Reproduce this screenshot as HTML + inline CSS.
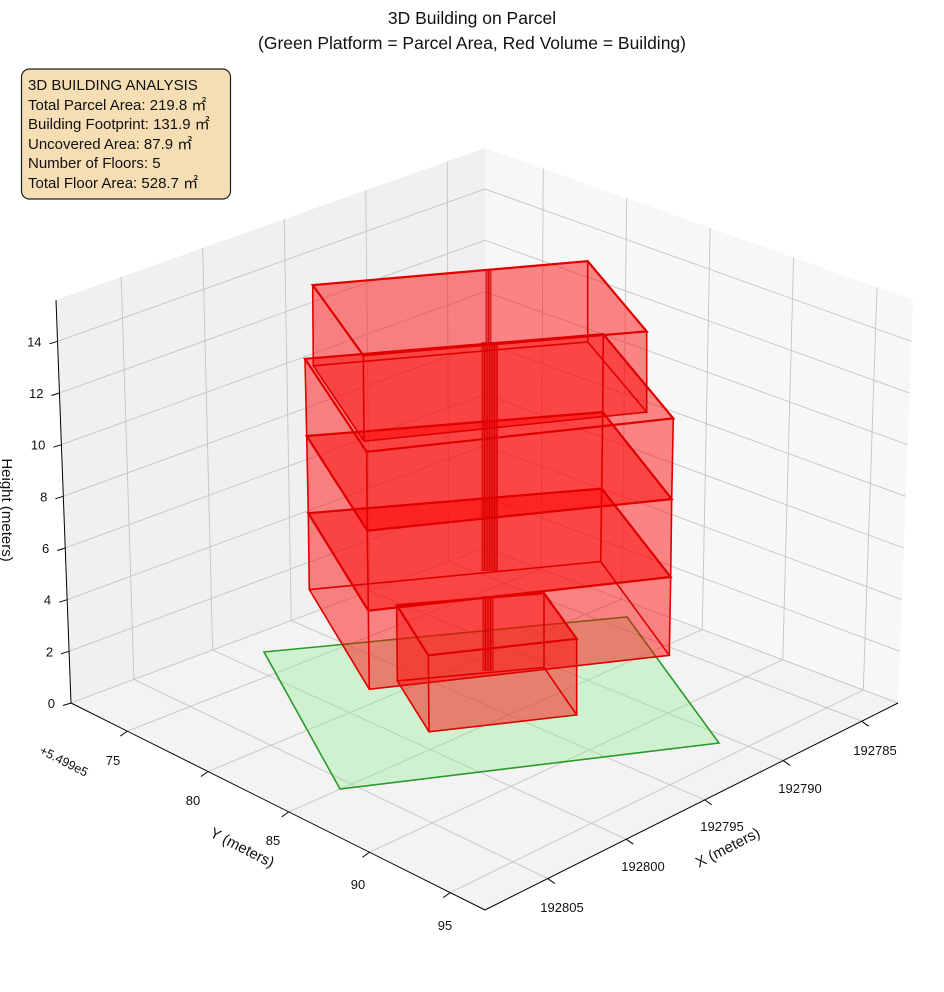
<!DOCTYPE html>
<html><head><meta charset="utf-8"><style>
html,body{margin:0;padding:0;background:#fff;}
svg{display:block;font-family:"Liberation Sans","Noto Sans CJK JP",sans-serif;}
</style></head><body>
<svg id="s" width="944" height="992" viewBox="0 0 944 992" xmlns="http://www.w3.org/2000/svg">
<g id="g"></g>
<text x="472" y="24" font-size="17.5" text-anchor="middle" fill="#111">3D Building on Parcel</text>
<text x="472" y="49" font-size="17.5" text-anchor="middle" fill="#111">(Green Platform = Parcel Area, Red Volume = Building)</text>
<rect x="21.5" y="69" width="209" height="130" rx="8" fill="#f5deb3" stroke="#222" stroke-width="1.2"/>
<g font-size="15" fill="#111">
<text x="28" y="90">3D BUILDING ANALYSIS</text>
<text x="28" y="110">Total Parcel Area: 219.8 ㎡</text>
<text x="28" y="129">Building Footprint: 131.9 ㎡</text>
<text x="28" y="149">Uncovered Area: 87.9 ㎡</text>
<text x="28" y="168">Number of Floors: 5</text>
<text x="28" y="188">Total Floor Area: 528.7 ㎡</text>
</g>
</svg>
<script>
(function(){
var NS="http://www.w3.org/2000/svg";
var g=document.getElementById("g");
function el(t,a,txt){var e=document.createElementNS(NS,t);for(var k in a)e.setAttribute(k,a[k]);if(txt!==undefined)e.textContent=txt;g.appendChild(e);return e;}
var C={"000":[71,703],"100":[485,910],"110":[898,703],"010":[485,548],
"001":[56,300],"101":[485,485],"111":[913,300],"011":[485,148]};
function P(u,v,w){
 function L(a,b,t){return [a[0]+(b[0]-a[0])*t,a[1]+(b[1]-a[1])*t];}
 var b0=L(L(C["000"],C["100"],u),L(C["010"],C["110"],u),v);
 var b1=L(L(C["001"],C["101"],u),L(C["011"],C["111"],u),v);
 return L(b0,b1,w);}
function pts(a){return a.map(function(p){return p[0].toFixed(1)+","+p[1].toFixed(1);}).join(" ");}
function line(a,b,st,sw){el("line",{x1:a[0],y1:a[1],x2:b[0],y2:b[1],stroke:st,"stroke-width":sw});}
el("polygon",{points:pts([P(0,0,0),P(0,1,0),P(0,1,1),P(0,0,1)]),fill:"#f0f0f0"});
el("polygon",{points:pts([P(0,1,0),P(1,1,0),P(1,1,1),P(0,1,1)]),fill:"#f7f7f7"});
el("polygon",{points:pts([P(0,0,0),P(1,0,0),P(1,1,0),P(0,1,0)]),fill:"#f3f3f3"});
var gc="#c4c4c4",gw=0.9;
var zt=[0,2,4,6,8,10,12,14];
var uY=[75,80,85,90,95].map(function(y){return 0.136+(y-75)*0.039;});
var vX=[192805,192800,192795,192790,192785].map(function(x){return 0.152+(192805-x)*0.038;});
zt.forEach(function(z){var w=z/15.6;line(P(0,0,w),P(0,1,w),gc,gw);line(P(0,1,w),P(1,1,w),gc,gw);});
vX.forEach(function(v){line(P(0,v,0),P(0,v,1),gc,gw);line(P(0,v,0),P(1,v,0),gc,gw);});
uY.forEach(function(u){line(P(u,1,0),P(u,1,1),gc,gw);line(P(u,0,0),P(u,1,0),gc,gw);});
line(P(0,0,0),P(0,0,1),"#000",1);
line(P(0,0,0),P(1,0,0),"#000",1);
line(P(1,0,0),P(1,1,0),"#000",1);
zt.forEach(function(z){var p=P(0,0,z/15.6);line(p,[p[0]-8,p[1]+2.5],"#000",1);
 el("text",{x:p[0]-16,y:p[1]+5,"font-size":13,"text-anchor":"end",fill:"#111"},String(z));});
var yl=[[113,765],[193,805],[273,845],[358,889],[445,930]];
uY.forEach(function(u,i){var p=P(u,0,0);line(p,[p[0]-7,p[1]+5],"#000",1);
 el("text",{x:yl[i][0],y:yl[i][1],"font-size":13,"text-anchor":"middle",fill:"#111"},String(75+5*i));});
var xl=[[562,912],[643,871],[722,831],[800,793],[875,755]];
vX.forEach(function(v,i){var p=P(1,v,0);line(p,[p[0]+7,p[1]+5],"#000",1);
 el("text",{x:xl[i][0],y:xl[i][1],"font-size":13,"text-anchor":"middle",fill:"#111"},String(192805-5*i));});
el("text",{x:240,y:852,"font-size":15,"text-anchor":"middle",fill:"#111",transform:"rotate(27 240 852)"},"Y (meters)");
el("text",{x:730,y:852,"font-size":15,"text-anchor":"middle",fill:"#111",transform:"rotate(-27 730 852)"},"X (meters)");
el("text",{x:62,y:765,"font-size":12.5,"text-anchor":"middle",fill:"#111",transform:"rotate(27 62 765)"},"+5.499e5");
el("text",{x:2,y:510,"font-size":15,"text-anchor":"middle",fill:"#111",transform:"rotate(90 2 510)"},"Height (meters)");
el("polygon",{points:pts([[264,652],[627,617],[719,743],[340,789]]),fill:"#90ee90","fill-opacity":0.35,stroke:"#2a9a2a","stroke-width":1.6});
var B=[
 [[[396.7,605.1],[544,593.2],[576.7,638.8],[428.3,655.3]],[[397.3,680.9],[544,667.5],[576.7,714.9],[429,731.8]]],
 [[[308.3,513.2],[601.7,488.6],[670.7,577],[368.3,610.7]],[[309.3,589.6],[600.7,561.6],[669.3,655.3],[369.3,689.3]]],
 [[[306.7,436],[602.7,412.1],[671.7,499.1],[367.3,530.7]],[[308.3,513.2],[601.7,488.6],[670.7,577],[368.3,610.7]]],
 [[[305,358.8],[603.3,334.2],[673.3,418.4],[366.7,451.8]],[[306.7,436],[602.7,412.1],[671.7,499.1],[367.3,530.7]]],
 [[[312.7,285.1],[587.7,261.2],[646.7,331.4],[363.3,355.3]],[[313.3,365.8],[587.7,341.9],[646.7,412.1],[364,441.2]]]
];
B.forEach(function(b){var T=b[0],D=b[1];
 var faces=[T,D];
 for(var i=0;i<4;i++){var j=(i+1)%4;faces.push([T[i],T[j],D[j],D[i]]);}
 faces.forEach(function(f){el("polygon",{points:pts(f),fill:"#ff0000","fill-opacity":0.27,stroke:"none"});});
});
function seam(x1,x2,y1,y2){el("rect",{x:x1,y:y1,width:x2-x1,height:y2-y1,fill:"#e00000","fill-opacity":0.55});
 for(var x=x1;x<=x2;x+=2.5)line([x,y1],[x,y2],"#d00000",0.8);}
seam(482,498,342,571);seam(486,491,269,345);seam(483,493,596,671);
B.forEach(function(b){var T=b[0],D=b[1];
 el("polygon",{points:pts(T),fill:"none",stroke:"#e00000","stroke-width":2.2});
 el("polygon",{points:pts(D),fill:"none",stroke:"#e00000","stroke-width":1.6});
 for(var i=0;i<4;i++)line(T[i],D[i],"#e00000",1.6);
});
})();
</script>
</body></html>
